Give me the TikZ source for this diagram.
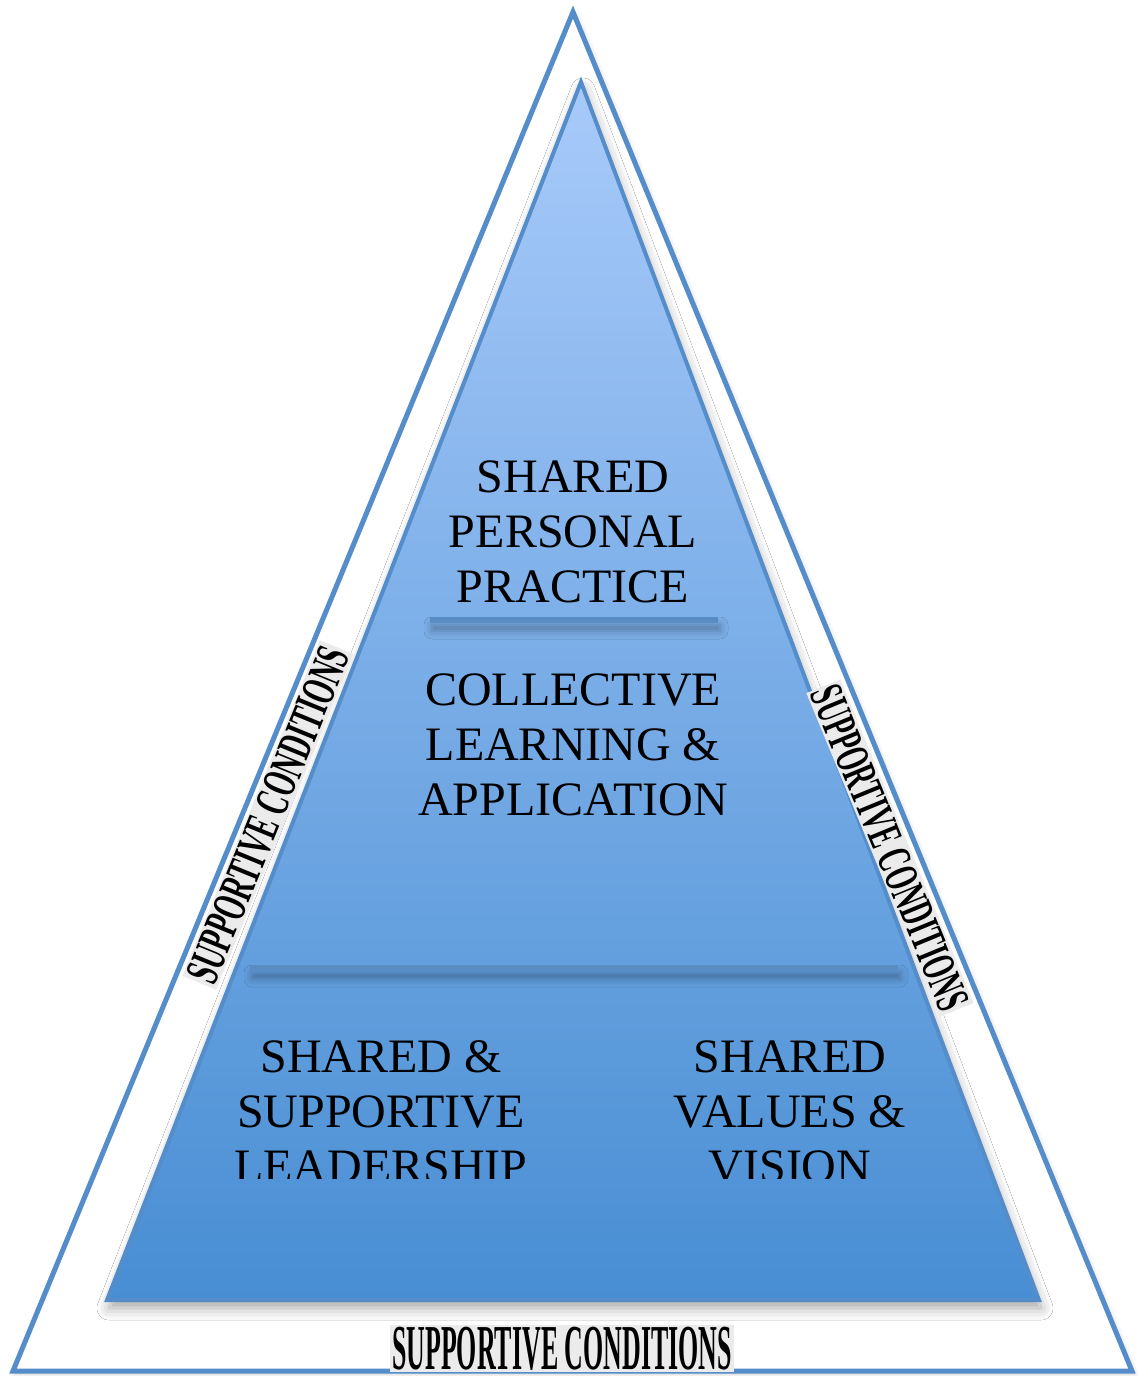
\documentclass[tikz,border=0pt]{standalone}
\usepackage{fontspec}
\setmainfont{Liberation Serif}
\usetikzlibrary{shadows.blur}
\definecolor{edgeblue}{RGB}{84,141,201}
\definecolor{topblue}{RGB}{168,202,250}
\definecolor{botblue}{RGB}{72,142,211}
\definecolor{barblue}{RGB}{88,140,194}
\tikzstyle{outer}=[draw=edgeblue,line width=2.5pt,fill=white,blur shadow={shadow xshift=1pt,shadow yshift=-1.5pt,shadow blur radius=3pt,shadow opacity=20}]
\tikzstyle{inner}=[draw=edgeblue,line width=2pt,top color=topblue,bottom color=botblue,blur shadow={shadow xshift=1pt,shadow yshift=-4pt,shadow blur radius=6pt,shadow opacity=35}]
\tikzstyle{bar}=[fill=barblue,blur shadow={shadow xshift=1pt,shadow yshift=-4pt,shadow blur radius=4pt,shadow opacity=30}]
\tikzstyle{lab}=[font=\fontsize{24}{27.5}\selectfont,align=center,inner sep=0pt,anchor=base]
\tikzstyle{cond}=[fill=black!8,inner sep=1pt,font=\bfseries]

\begin{document}
\begin{tikzpicture}[x=0.5pt,y=-0.5pt]
\useasboundingbox (0,0) rectangle (1138,1376);
\draw[outer] (573,12) -- (1132,1371) -- (13,1371) -- cycle;
\draw[inner] (581,82) -- (1039,1300) -- (107,1300) -- cycle;
\fill[bar] (430,617) rectangle (718,623);
\fill[bar] (250,965) rectangle (898,971);

% text blocks, base = last line
\node[lab] (spp) at (573,602) {SHARED\\PERSONAL\\PRACTICE};
\node[lab] (cla) at (573,815) {COLLECTIVE\\LEARNING \&\\APPLICATION};
\begin{scope}
\clip (150,1000) rectangle (1000,1178);
\node[lab] (ssl) at (381,1182) {SHARED \&\\SUPPORTIVE\\LEADERSHIP};
\node[lab] (svv) at (790,1182) {SHARED\\VALUES \&\\VISION};
\end{scope}

\node[cond,font=\bfseries\fontsize{24}{24}\selectfont,rotate=67.7] (scl) at (268,815) {\scalebox{0.57}[1]{SUPPORTIVE CONDITIONS}};
\node[cond,font=\bfseries\fontsize{24}{24}\selectfont,rotate=-67.6] (scr) at (890,848) {\scalebox{0.55}[1]{SUPPORTIVE CONDITIONS}};
\node[cond,font=\bfseries\fontsize{32}{32}\selectfont,anchor=base] (scb) at (562,1369) {\scalebox{0.405}[1]{SUPPORTIVE CONDITIONS}};
\end{tikzpicture}
\end{document}
